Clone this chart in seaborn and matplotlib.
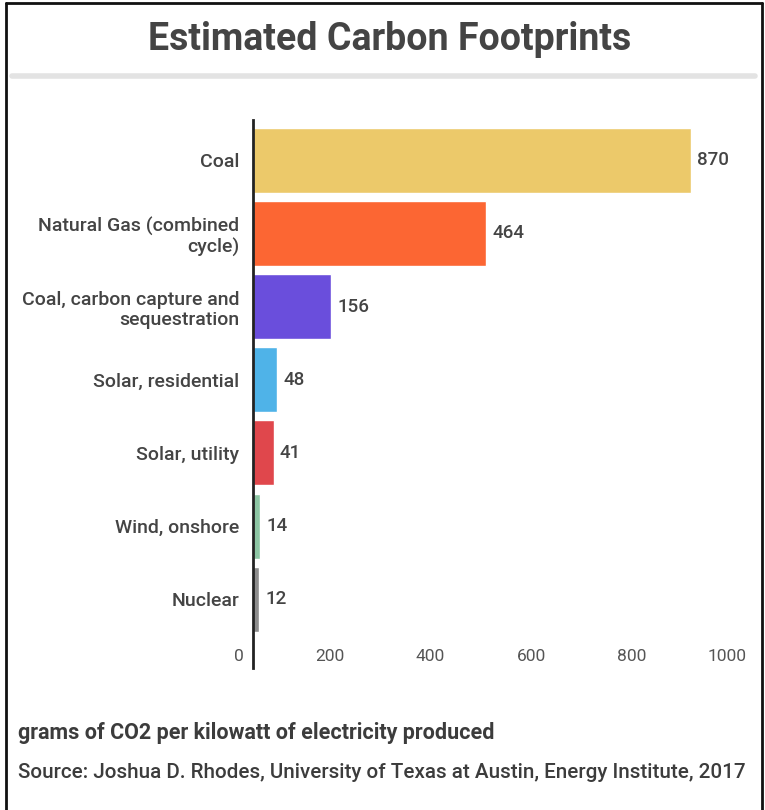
import matplotlib
matplotlib.use("Agg")
import matplotlib.pyplot as plt
import matplotlib.transforms as mtransforms
import pandas as pd
import seaborn as sns

fontes = ["Coal", "Natural Gas (combined\ncycle)", "Coal, carbon capture and\nsequestration",
          "Solar, residential", "Solar, utility", "Wind, onshore", "Nuclear"]
gramas = [870, 464, 156, 48, 41, 14, 12]
cores = ["#ECC96A", "#FC6633", "#6A4EDC", "#4FB3E8", "#E0474C", "#8DC6A4", "#8C8C8C"]
ticks_x = [0, 200, 400, 600, 800, 1000]

df = pd.DataFrame({"fonte": fontes, "gramas": gramas})

sns.set_style("white")
plt.rcParams["font.family"] = ["Roboto", "DejaVu Sans"]

W, H = 765, 810
fig = plt.figure(figsize=(W / 100, H / 100), dpi=100)
ax = fig.add_axes([253 / W, 1 - 668 / H, 503 / W, 548 / H])

sns.barplot(data=df, x="gramas", y="fonte", hue="fonte", palette=cores,
            legend=False, width=0.89, saturation=1, ax=ax)
ax.set_xlim(0, 1000)
ax.set_ylim(6.94, -0.55)

for s in ["top", "right", "bottom"]:
    ax.spines[s].set_visible(False)
ax.spines["left"].set_color("#222222")
ax.spines["left"].set_linewidth(2)
ax.set_xlabel("")
ax.set_ylabel("")

# rotulos y
ax.tick_params(axis="y", length=0, pad=10, labelsize=14, labelcolor="#444444")
for lab in ax.get_yticklabels():
    lab.set_fontweight("medium")
    lab.set_linespacing(1.15)

# rotulos x dentro do eixo, alinhados a direita
ax.set_xticks(ticks_x)
ax.set_xticklabels([str(t) for t in ticks_x])
ax.tick_params(axis="x", length=0, pad=-14, labelsize=12.5, labelcolor="#555555")
desloc = mtransforms.ScaledTranslation(-9 / 100, 0, fig.dpi_scale_trans)
for lab in ax.get_xticklabels():
    lab.set_horizontalalignment("right")
    lab.set_transform(lab.get_transform() + desloc)

# valores
for i, v in enumerate(gramas):
    ax.annotate(str(v), (v, i), xytext=(4.5, 0), textcoords="offset points",
                va="center", ha="left", fontsize=13.5, color="#444444", fontweight="medium")

# titulo e linha cinza
fig.text(390 / W, 1 - 40 / H, "Estimated Carbon Footprints", ha="center", va="center",
         fontsize=27, fontweight="bold", color="#444444")
fig.add_artist(plt.Line2D([12 / W, 755 / W], [1 - 76 / H, 1 - 76 / H], color="#e3e3e3",
                          linewidth=4, transform=fig.transFigure))

# notas de rodape
fig.text(18 / W, 1 - 733 / H, "grams of CO2 per kilowatt of electricity produced",
         ha="left", va="center", fontsize=15.5, fontweight="bold", color="#3c3c3c")
fig.text(18 / W, 1 - 773 / H,
         "Source: Joshua D. Rhodes, University of Texas at Austin, Energy Institute, 2017",
         ha="left", va="center", fontsize=14.9, fontweight="medium", color="#3c3c3c")

# moldura
for xs, ys in [([6 / W, 6 / W], [0, 1 - 3 / H]), ([6 / W, 762 / W], [1 - 3 / H, 1 - 3 / H]),
               ([762 / W, 762 / W], [0, 1 - 3 / H])]:
    fig.add_artist(plt.Line2D(xs, ys, color="#111111", linewidth=2, transform=fig.transFigure))

plt.savefig("out.png", dpi=100, facecolor="white")
